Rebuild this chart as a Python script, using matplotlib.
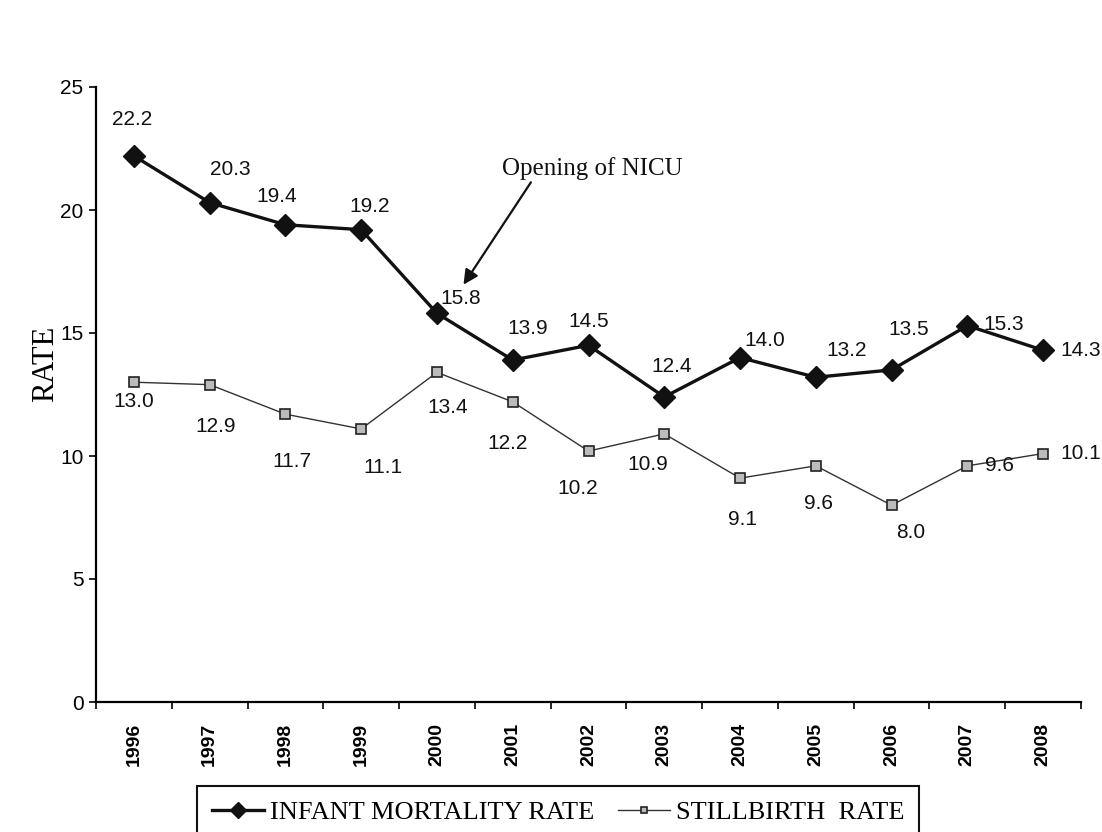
import matplotlib as mpl
import matplotlib.pyplot as plt

mpl.rcParams['font.family'] = ['Liberation Sans', 'DejaVu Sans']
mpl.rcParams['axes.linewidth'] = 1.6

# data
years = ['1996', '1997', '1998', '1999', '2000', '2001', '2002',
         '2003', '2004', '2005', '2006', '2007', '2008']
infant_mortality = [22.2, 20.3, 19.4, 19.2, 15.8, 13.9, 14.5, 12.4, 14.0, 13.2, 13.5, 15.3, 14.3]
stillbirth = [13.0, 12.9, 11.7, 11.1, 13.4, 12.2, 10.2, 10.9, 9.1, 9.6, 8.0, 9.6, 10.1]
y_ticks = [0, 5, 10, 15, 20, 25]

# label offsets in points (layout only)
imr_offsets = [(-1, 26), (15, 24), (-6, 20), (6, 17), (17, 11), (11, 23), (0, 17),
               (5, 22), (18, 12), (22, 19), (12, 29), (26, 1), (27, 0)]
sb_offsets = [(0, -14), (4, -30), (5, -34), (16, -28), (8, -25), (-4, -30), (-8, -27),
              (-12, -22), (2, -30), (2, -27), (14, -20), (23, 0), (27, 0)]

fig = plt.figure(figsize=(11.02, 8.32), dpi=100)
ax = fig.add_axes([96 / 1102, 1 - 702 / 832, 985 / 1102, 615 / 832])

x = list(range(len(years)))
l1, = ax.plot(x, infant_mortality, color='#111111', lw=2.4, marker='D', ms=11,
              mfc='#111111', mec='#111111', label='INFANT MORTALITY RATE', zorder=3)
l2, = ax.plot(x, stillbirth, color='#333333', lw=1.0, marker='s', ms=7,
              mfc='#bbbbbb', mec='#222222', mew=1.2, label='STILLBIRTH  RATE', zorder=3)

for i, v in enumerate(infant_mortality):
    ax.annotate(f'{v:.1f}', (i, v), xytext=imr_offsets[i], textcoords='offset points',
                ha='center', va='center', fontsize=15, color='#111111')
for i, v in enumerate(stillbirth):
    ax.annotate(f'{v:.1f}', (i, v), xytext=sb_offsets[i], textcoords='offset points',
                ha='center', va='center', fontsize=15, color='#111111')

# NICU annotation
ax.annotate('', xy=(4.33, 16.87), xytext=(5.26, 21.22),
            arrowprops=dict(arrowstyle='-|>', lw=1.6, color='#111111', mutation_scale=22))
ax.text(4.86, 21.7, 'Opening of NICU', family=['Liberation Serif', 'DejaVu Serif'],
        fontsize=18, ha='left', va='center', color='#111111')

ax.set_xlim(-0.5, len(years) - 0.5)
ax.set_ylim(0, 25)
ax.set_yticks(y_ticks)
ax.tick_params(axis='y', direction='out', length=5, width=1.2, labelsize=15, pad=4)

ax.set_xticks([i - 0.5 for i in range(len(years) + 1)])
ax.set_xticklabels([])
ax.set_xticks(x, minor=True)
ax.set_xticklabels(years, minor=True, rotation=90, fontweight='bold', fontsize=14)
ax.tick_params(axis='x', which='major', direction='out', length=5, width=1.2)
ax.tick_params(axis='x', which='minor', length=0, pad=15)

ax.spines['top'].set_visible(False)
ax.spines['right'].set_visible(False)

ax.set_ylabel('RATE', family=['Liberation Serif', 'DejaVu Serif'], fontsize=22)
ax.yaxis.set_label_coords(-36 / 985, (702 - 364) / 615)

leg = fig.legend(handles=[l1, l2], loc='upper left', bbox_to_anchor=(197 / 1102, 1 - 786 / 832),
                 ncol=2, frameon=True, fancybox=False, edgecolor='#111111', framealpha=1,
                 prop={'family': 'Liberation Serif', 'size': 19}, handlelength=2.0,
                 handletextpad=0.2, columnspacing=0.9, borderpad=0.55, borderaxespad=0)
leg.get_frame().set_linewidth(1.5)
for h, ms in zip(leg.legend_handles, [8, 5]):
    h.set_markersize(ms)

fig.savefig('out.png', dpi=100)
